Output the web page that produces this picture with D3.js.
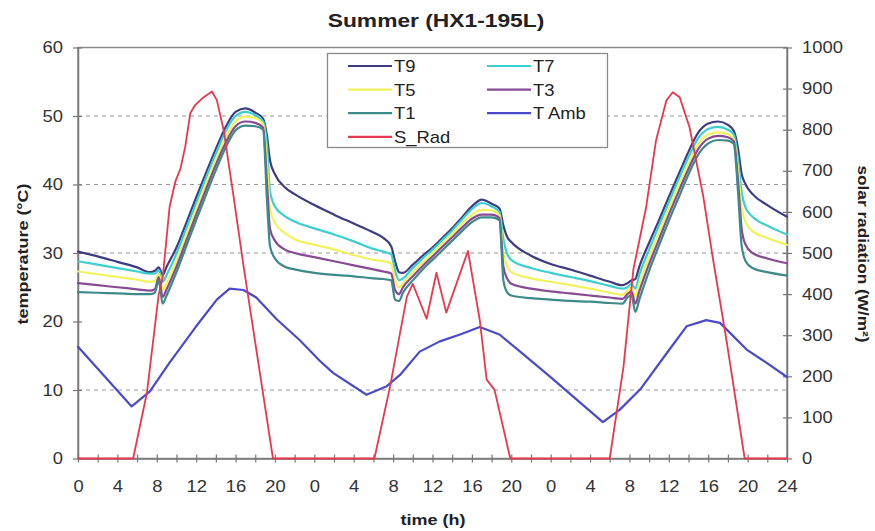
<!DOCTYPE html>
<html>
<head>
<meta charset="utf-8">
<script src="https://cdn.jsdelivr.net/npm/d3@7"></script>
<style>
  body { margin: 0; background: #fff; }
  svg { display: block; font-family: "Liberation Sans", Arial, sans-serif; }
</style>
</head>
<body>
<svg id="chart" width="875" height="531"></svg>
<script>
// Elapsed time over three days (h), shared by the tank temperature series
const hours = [0,2,4,6,7.3,7.8,8.2,8.6,9,10,11,12,13,14,15,16,17,18,18.8,19.2,19.5,20,21,22,24,26,28,30,31,31.8,32.2,32.6,33,34,35,36,37,38,39,40,41,42,42.8,43.2,43.6,44,46,48,50,52,54,55.3,55.8,56.2,56.6,57,58,59,60,61,62,63,64,65,66,66.6,67,67.4,67.8,68.5,70,72];

// Tank temperatures (°C)
const t9 = [30.2,29.5,28.7,27.9,27.2,27.4,27.9,26.8,28.0,30.8,34.4,38.1,41.7,45.2,48.4,50.6,51.1,50.5,49.6,47.0,43.5,41.5,39.6,38.6,37.0,35.6,34.3,33.0,32.2,31.0,28.8,27.2,27.1,28.3,29.6,30.8,32.2,33.6,35.2,36.8,37.8,37.2,36.5,34.0,32.3,31.6,29.6,28.4,27.6,26.7,25.8,25.3,25.6,26.0,26.2,28.0,31.5,34.8,38.2,41.5,44.8,47.6,48.9,49.2,48.7,47.8,45.5,41.5,40.0,38.6,37.0,35.3];
const t7 = [28.8,28.3,27.8,27.3,27.0,27.0,27.5,25.8,26.8,29.9,33.6,37.3,41.0,44.5,47.8,50.0,50.6,50.1,49.2,45.5,39.0,36.8,35.4,34.6,33.6,32.7,31.7,30.6,30.2,29.8,27.4,26.0,26.3,27.8,29.2,30.5,31.9,33.3,34.9,36.4,37.3,36.8,36.0,32.0,29.8,29.0,27.8,27.1,26.5,25.9,25.2,24.8,25.0,25.5,24.8,26.8,30.5,34.0,37.4,40.8,44.0,46.8,48.1,48.4,48.0,47.3,44.0,38.8,36.6,35.3,34.0,32.7];
const t5 = [27.3,26.9,26.5,26.1,25.8,25.9,27.0,24.6,25.6,28.9,32.6,36.4,40.1,43.6,46.9,49.2,49.9,49.7,48.8,43.0,36.5,34.4,32.9,32.0,31.2,30.5,29.7,29.0,28.8,28.5,26.0,25.0,25.6,27.2,28.6,30.0,31.4,32.8,34.3,35.6,36.3,36.2,35.5,30.0,28.0,27.2,26.3,25.8,25.3,24.8,24.2,23.9,24.5,25.0,23.6,25.5,29.4,33.0,36.5,39.9,43.1,45.9,47.3,47.6,47.3,46.6,42.5,36.5,34.5,33.2,32.2,31.2];
const t3 = [25.6,25.3,25.0,24.7,24.5,24.7,26.5,23.6,24.7,28.0,31.8,35.6,39.3,42.9,46.1,48.5,49.2,49.0,48.3,40.0,33.5,31.8,30.5,30.0,29.4,28.8,28.2,27.6,27.3,27.0,24.6,24.0,25.0,26.6,28.1,29.5,30.9,32.3,33.7,35.0,35.6,35.6,35.1,28.0,26.2,25.5,24.8,24.4,24.1,23.8,23.5,23.3,24.0,24.4,22.6,24.4,28.4,32.0,35.6,39.0,42.3,45.2,46.7,47.1,46.9,46.3,41.0,33.5,31.2,30.0,29.2,28.5];
const t1 = [24.3,24.2,24.1,24.0,24.0,24.2,26.0,22.6,23.8,27.2,31.0,34.8,38.5,42.1,45.4,47.9,48.6,48.5,48.0,37.5,31.0,29.2,28.0,27.6,27.1,26.8,26.6,26.3,26.2,26.0,23.2,23.0,24.2,26.0,27.6,29.0,30.4,31.8,33.2,34.5,35.2,35.2,34.8,26.0,24.2,23.8,23.4,23.2,23.0,22.9,22.7,22.6,23.5,23.8,21.4,23.2,27.4,31.1,34.7,38.1,41.5,44.4,46.0,46.5,46.4,45.9,39.5,31.0,28.8,27.8,27.2,26.7];

// Ambient temperature (°C)
const ambHours = [0,5.45,7.3,9.3,12,14.1,15.4,16.8,18.1,20.2,22.5,24.6,25.9,29.3,31.3,32.7,34.7,36.75,38.8,40.8,42.8,44.9,47.9,53.3,55.0,57.1,59.8,61.8,63.8,65.2,67.9,69.9,72];
const tAmb = [16.3,7.6,9.8,14.0,19.3,23.2,24.8,24.6,23.5,20.3,17.3,14.2,12.5,9.3,10.5,12.2,15.6,17.1,18.1,19.2,18.1,15.6,12.0,5.3,7.1,10.1,15.4,19.3,20.2,19.8,15.9,14.0,11.9];

// Solar radiation (W/m²)
const radHours = [0,5.6,7.0,8.2,8.6,9.3,9.9,10.4,10.9,11.4,11.9,12.7,13.6,14.1,14.8,15.8,16.8,19.8,30.1,31.7,32.7,33.4,34.0,35.4,36.4,37.4,39.6,40.8,41.5,42.3,43.9,54.0,55.4,56.4,57.7,58.7,59.75,60.4,61.1,62.1,63.5,64.5,65.9,67.7,72];
const sRad = [0,0,160,400,440,612,675,705,760,840,860,878,893,872,798,637,470,0,0,176,305,394,425,340,452,355,505,337,192,167,0,0,224,460,612,774,871,891,879,806,637,483,281,0,0];

// Axis ticks and labels
const timeTicks = d3.range(0, 73, 2);
const timeTickLabels = ["0","4","8","12","16","20","0","4","8","12","16","20","0","4","8","12","16","20","24"];
const tempTicks = [0,10,20,30,40,50,60];
const tempGrid = [10,30,40,50];
const radTicks = [0,100,200,300,400,500,600,700,800,900,1000];

const seriesNames = ["T9","T7","T5","T3","T1","T Amb","S_Rad"];
const seriesColors = ["#3d3d84","#3ccfd0","#f2f25a","#874a93","#3e8a8a","#4a4acb","#e8384f"];

const svg = d3.select("#chart");
const plotLeft = 78, plotRight = 787, plotTop = 47.5, plotBottom = 458.5;

const x = d3.scaleLinear().domain([0, 72]).range([plotLeft, plotRight]);
const yT = d3.scaleLinear().domain([0, 60]).range([plotBottom, plotTop]);
const yR = d3.scaleLinear().domain([0, 1000]).range([plotBottom, plotTop]);

const stretch = "scale(1.15,1)";

// dashed grid on the temperature axis
svg.append("g").selectAll("line").data(tempGrid).join("line")
  .attr("x1", plotLeft).attr("x2", plotRight)
  .attr("y1", d => yT(d)).attr("y2", d => yT(d))
  .attr("stroke", "#9a9a9a").attr("stroke-width", 1.2)
  .attr("stroke-dasharray", "4,4");

// plot frame
svg.append("rect")
  .attr("x", plotLeft).attr("y", plotTop)
  .attr("width", plotRight - plotLeft).attr("height", plotBottom - plotTop)
  .attr("fill", "none").attr("stroke", "#8a8a8a").attr("stroke-width", 1.5);

function styleAxis(g) {
  g.select(".domain").attr("stroke", "#777").attr("stroke-width", 1.5);
  g.selectAll(".tick line").attr("stroke", "#777").attr("stroke-width", 1.2);
  g.selectAll(".tick text")
    .attr("fill", "#333").attr("font-size", 16).attr("transform", stretch);
}

// time axis
const labelByTick = new Map(d3.range(0, 73, 4).map((h, i) => [h, timeTickLabels[i]]));
const xAxis = svg.append("g").attr("transform", `translate(0,${plotBottom})`)
  .call(d3.axisBottom(x).tickValues(timeTicks).tickSizeOuter(0).tickSizeInner(4)
    .tickFormat(h => labelByTick.has(h) ? labelByTick.get(h) : ""));
styleAxis(xAxis);
xAxis.selectAll(".tick line").attr("y1", -4).attr("y2", 4);
xAxis.selectAll(".tick text").attr("y", 22);

// temperature axis
const yAxisL = svg.append("g").attr("transform", `translate(${plotLeft},0)`)
  .call(d3.axisLeft(yT).tickValues(tempTicks).tickFormat(d3.format("d"))
    .tickSizeOuter(0).tickSizeInner(5));
styleAxis(yAxisL);
yAxisL.selectAll(".tick line").attr("x1", 4).attr("x2", -5);
yAxisL.selectAll(".tick text").attr("x", -13);

// solar radiation axis
const yAxisR = svg.append("g").attr("transform", `translate(${plotRight},0)`)
  .call(d3.axisRight(yR).tickValues(radTicks).tickFormat(d3.format("d"))
    .tickSizeOuter(0).tickSizeInner(5));
styleAxis(yAxisR);
yAxisR.selectAll(".tick line").attr("x1", -4).attr("x2", 5);
yAxisR.selectAll(".tick text").attr("x", 13);

// series lines
const tankLine = d3.line().x(d => x(d[0])).y(d => yT(d[1])).curve(d3.curveMonotoneX);
const ambLine = d3.line().x(d => x(d[0])).y(d => yT(d[1]));
const radLine = d3.line().x(d => x(d[0])).y(d => yR(d[1]));

const tankSeries = [t9, t7, t5, t3, t1];
const plot = svg.append("g").attr("fill", "none")
  .attr("stroke-linejoin", "round").attr("stroke-linecap", "round");

tankSeries.forEach((vals, i) => {
  plot.append("path")
    .attr("d", tankLine(d3.zip(hours, vals)))
    .attr("stroke", seriesColors[i]).attr("stroke-width", 2.2);
});
plot.append("path")
  .attr("d", ambLine(d3.zip(ambHours, tAmb)))
  .attr("stroke", seriesColors[5]).attr("stroke-width", 2.2);
plot.append("path")
  .attr("d", radLine(d3.zip(radHours, sRad)))
  .attr("stroke", seriesColors[6]).attr("stroke-width", 1.8);

// legend
const legend = svg.append("g");
legend.append("rect")
  .attr("x", 327.5).attr("y", 53.5).attr("width", 280).attr("height", 94)
  .attr("fill", "#fff").attr("stroke", "#8a8a8a").attr("stroke-width", 1.3);
seriesNames.forEach((name, i) => {
  const col = i % 2, row = Math.floor(i / 2);
  const lx = 348 + col * 139, ly = 66 + row * 23.6;
  legend.append("line")
    .attr("x1", lx).attr("x2", lx + 44).attr("y1", ly).attr("y2", ly)
    .attr("stroke", seriesColors[i]).attr("stroke-width", 2.2);
  legend.append("text")
    .attr("transform", `translate(${lx + 46},${ly + 6}) ${stretch}`)
    .attr("font-size", 16).attr("fill", "#222").text(name);
});

// titles
svg.append("text")
  .attr("transform", "translate(436,27) scale(1.2,1)")
  .attr("text-anchor", "middle").attr("font-size", 19).attr("font-weight", "bold")
  .attr("fill", "#222").text("Summer (HX1-195L)");
svg.append("text")
  .attr("transform", "translate(433,525) scale(1.2,1)")
  .attr("text-anchor", "middle").attr("font-size", 15).attr("font-weight", "bold")
  .attr("fill", "#222").text("time (h)");
svg.append("text")
  .attr("transform", "translate(28,254) rotate(-90) scale(1.2,1)")
  .attr("text-anchor", "middle").attr("font-size", 15).attr("font-weight", "bold")
  .attr("fill", "#222").text("temperature (°C)");
svg.append("text")
  .attr("transform", "translate(858,254) rotate(90) scale(1.15,1)")
  .attr("text-anchor", "middle").attr("font-size", 15).attr("font-weight", "bold")
  .attr("fill", "#222").text("solar radiation (W/m²)");
</script>
</body>
</html>
